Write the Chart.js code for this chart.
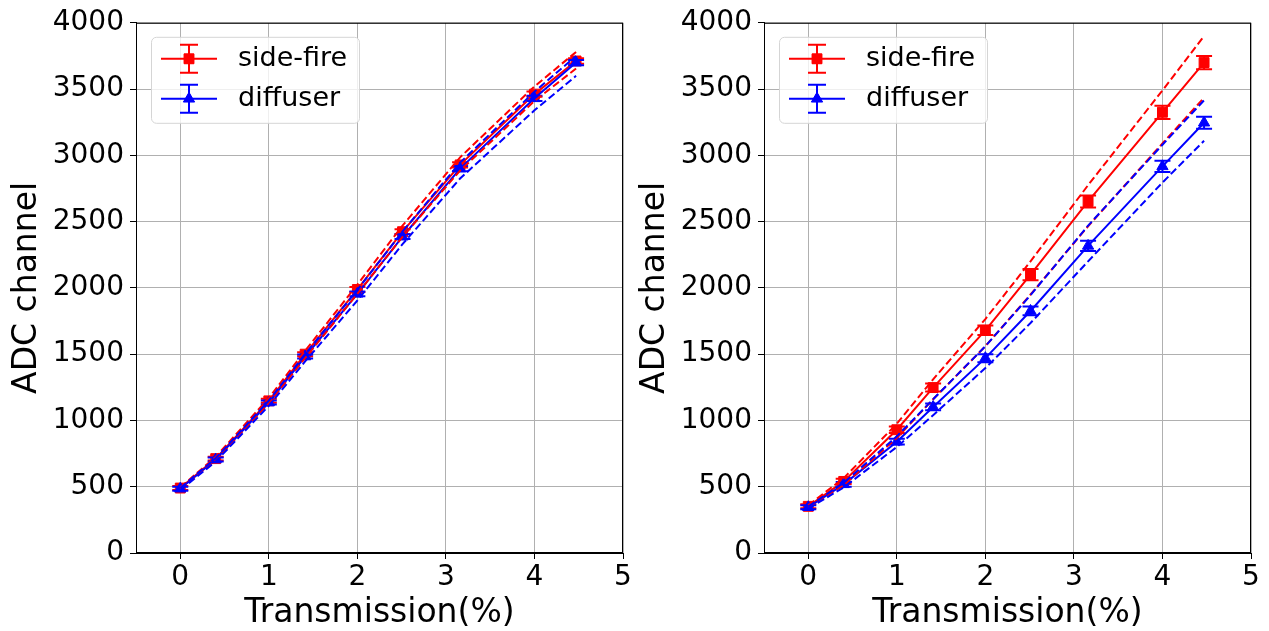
<!DOCTYPE html>
<html>
<head>
<meta charset="utf-8">
<script src="https://cdn.jsdelivr.net/npm/chart.js@4"></script>
<style>
  html, body { margin: 0; padding: 0; background: #fff; }
  .panel { position: absolute; top: 0; width: 641px; height: 631px; }
</style>
</head>
<body>
<div class="panel" style="left:0"><canvas id="left" width="641" height="631"></canvas></div>
<div class="panel" style="left:628px"><canvas id="right" width="641" height="631"></canvas></div>
<script>
// transmission points (%)
const transmission = [0, 0.4, 1, 1.41, 2, 2.51, 3.16, 4, 4.47]
const xTicks = [0, 1, 2, 3, 4, 5]
const seriesNames = ['side-fire', 'diffuser']

// left panel
const leftSideFire     = [490, 712, 1148, 1500, 1988, 2424, 2928, 3462, 3712]
const leftSideFireErr  = [15, 15, 15, 15, 18, 18, 20, 20, 20]
const leftSideFireHigh = [495, 725, 1170, 1525, 2025, 2470, 2985, 3520, 3780]
const leftSideFireLow  = [485, 700, 1130, 1470, 1955, 2385, 2885, 3410, 3655]
const leftDiffuser     = [485, 705, 1135, 1482, 1955, 2386, 2900, 3430, 3700]
const leftDiffuserErr  = [15, 15, 15, 15, 18, 18, 20, 20, 20]
const leftDiffuserHigh = [490, 715, 1150, 1500, 1985, 2425, 2945, 3480, 3750]
const leftDiffuserLow  = [475, 690, 1110, 1445, 1905, 2330, 2825, 3340, 3600]

// right panel
const rightSideFire     = [352, 540, 930, 1248, 1680, 2100, 2652, 3325, 3700]
const rightSideFireErr  = [15, 20, 25, 30, 36, 42, 45, 50, 50]
const rightSideFireHigh = [360, 565, 975, 1310, 1765, 2200, 2775, 3490, 3900]
const rightSideFireLow  = [345, 512, 868, 1160, 1560, 1950, 2465, 3090, 3435]
const rightDiffuser     = [345, 518, 840, 1102, 1470, 1826, 2317, 2917, 3246]
const rightDiffuserErr  = [15, 18, 22, 25, 30, 33, 38, 42, 45]
const rightDiffuserHigh = [350, 530, 880, 1160, 1560, 1945, 2470, 3080, 3415]
const rightDiffuserLow  = [335, 495, 800, 1040, 1395, 1735, 2200, 2795, 3110]

const RED = '#ff0000'
const BLUE = '#0000ff'
const FONT = 'DejaVu Sans'

const pts = vals => vals.map((v, i) => ({ x: transmission[i], y: v }))

const errorBars = {
  id: 'errorBars',
  afterDatasetDraw(chart, args) {
    const ds = chart.data.datasets[args.index]
    if (!ds.errors) return
    const { ctx, scales: { x, y } } = chart
    ctx.save()
    ctx.strokeStyle = ds.borderColor
    ctx.lineWidth = 2
    ds.data.forEach((p, i) => {
      const px = x.getPixelForValue(p.x)
      const top = y.getPixelForValue(p.y + ds.errors[i])
      const bot = y.getPixelForValue(p.y - ds.errors[i])
      ctx.beginPath()
      ctx.moveTo(px, top); ctx.lineTo(px, bot)
      ctx.moveTo(px - 8, top); ctx.lineTo(px + 8, top)
      ctx.moveTo(px - 8, bot); ctx.lineTo(px + 8, bot)
      ctx.stroke()
    })
    ctx.restore()
  }
}

// top/right spines plus the errorbar legend
const frameAndLegend = {
  id: 'frameAndLegend',
  afterDraw(chart) {
    const { ctx, chartArea: a } = chart
    ctx.save()
    ctx.strokeStyle = '#000'
    ctx.lineWidth = 1
    ctx.strokeRect(a.left + 0.5, a.top + 0.5, a.right - a.left - 1, a.bottom - a.top - 1)

    const bx = a.left + 15, by = a.top + 14, bw = 208, bh = 86
    ctx.beginPath()
    ctx.roundRect(bx + 0.5, by + 0.5, bw, bh, 5)
    ctx.fillStyle = 'rgba(255,255,255,0.8)'
    ctx.fill()
    ctx.strokeStyle = '#d5d5d5'
    ctx.stroke()

    const items = [
      { label: seriesNames[0], color: RED, style: 'rect', r: 7 },
      { label: seriesNames[1], color: BLUE, style: 'triangle', r: 6.5 }
    ]
    items.forEach((it, k) => {
      const cy = by + 22 + k * 40
      const x0 = bx + 10, x1 = bx + 66, cx = (x0 + x1) / 2
      ctx.strokeStyle = it.color
      ctx.fillStyle = it.color
      ctx.lineWidth = 2
      ctx.beginPath()
      ctx.moveTo(x0, cy); ctx.lineTo(x1, cy)
      ctx.moveTo(cx, cy - 14); ctx.lineTo(cx, cy + 14)
      ctx.moveTo(cx - 9, cy - 14); ctx.lineTo(cx + 9, cy - 14)
      ctx.moveTo(cx - 9, cy + 14); ctx.lineTo(cx + 9, cy + 14)
      ctx.stroke()
      ctx.lineWidth = 1
      Chart.helpers.drawPoint(ctx, { pointStyle: it.style, radius: it.r, rotation: 0, borderWidth: 1 }, cx, cy)
      ctx.fill()
      ctx.fillStyle = '#000'
      ctx.font = `27px "${FONT}"`
      ctx.textBaseline = 'middle'
      ctx.textAlign = 'left'
      ctx.fillText(it.label, bx + 87, cy)
    })
    ctx.restore()
  }
}

function makeChart(id, sf, sfErr, sfHi, sfLo, df, dfErr, dfHi, dfLo) {
  const solid = (label, vals, errs, color, style, order) => ({
    label, data: pts(vals), errors: errs, order,
    showLine: true, borderColor: color, backgroundColor: color, borderWidth: 2,
    pointStyle: style, pointRadius: style === 'rect' ? 7 : 6.5, pointBorderWidth: 1
  })
  const dashed = (vals, color, order) => ({
    data: pts(vals), order,
    showLine: true, borderColor: color, borderWidth: 2, borderDash: [7.5, 3.5],
    pointRadius: 0
  })

  return new Chart(document.getElementById(id), {
    type: 'scatter',
    data: {
      datasets: [
        solid(seriesNames[0], sf, sfErr, RED, 'rect', 6),
        solid(seriesNames[1], df, dfErr, BLUE, 'triangle', 5),
        dashed(sfHi, RED, 4),
        dashed(sfLo, RED, 3),
        dashed(dfHi, BLUE, 2),
        dashed(dfLo, BLUE, 1)
      ]
    },
    options: {
      responsive: false,
      animation: false,
      devicePixelRatio: 1,
      layout: { padding: { top: 20, left: 0, right: 641 - 623, bottom: 0 } },
      plugins: { legend: { display: false }, tooltip: { enabled: false } },
      scales: {
        x: {
          type: 'linear', min: -0.5, max: 5,
          afterBuildTicks: s => { s.ticks = xTicks.map(v => ({ value: v })) },
          afterFit: s => { s.height = 78 },
          grid: { color: '#b0b0b0', lineWidth: 1, tickLength: 6, tickColor: '#000' },
          border: { color: '#000', width: 1 },
          ticks: { color: '#000', font: { family: FONT, size: 28 }, padding: 2, maxRotation: 0 },
          title: { display: true, text: 'Transmission(%)', color: '#000', font: { family: FONT, size: 33 }, padding: { top: 0, bottom: -2 } }
        },
        y: {
          min: 0, max: 4000,
          ticks: { stepSize: 500, color: '#000', font: { family: FONT, size: 28 }, padding: 6, callback: v => String(v) },
          afterFit: s => { s.width = 136 },
          grid: { color: '#b0b0b0', lineWidth: 1, tickLength: 6, tickColor: '#000' },
          border: { color: '#000', width: 1 },
          title: { display: true, text: 'ADC channel', color: '#000', font: { family: FONT, size: 33 }, padding: { top: 8, bottom: 0 } }
        }
      }
    },
    plugins: [errorBars, frameAndLegend]
  })
}

makeChart('left', leftSideFire, leftSideFireErr, leftSideFireHigh, leftSideFireLow,
  leftDiffuser, leftDiffuserErr, leftDiffuserHigh, leftDiffuserLow)
makeChart('right', rightSideFire, rightSideFireErr, rightSideFireHigh, rightSideFireLow,
  rightDiffuser, rightDiffuserErr, rightDiffuserHigh, rightDiffuserLow)
</script>
</body>
</html>
